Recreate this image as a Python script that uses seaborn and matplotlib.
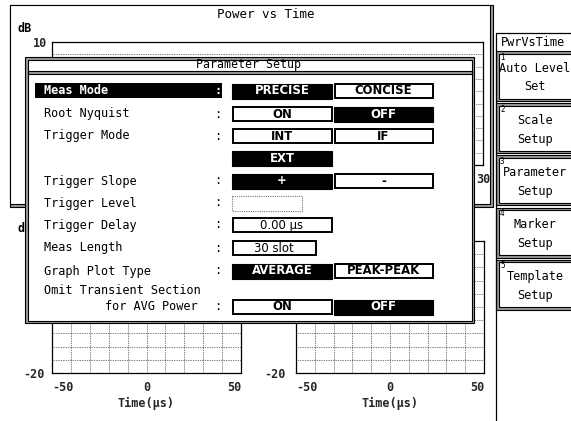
import numpy as np
import matplotlib
matplotlib.use("Agg")
import matplotlib.pyplot as plt
from matplotlib.patches import Rectangle
import seaborn as sns

# ---- values shown on the screen ----
screen_title = "Power vs Time"
dialog_title = "Parameter Setup"
param_labels = ["Meas Mode", "Root Nyquist", "Trigger Mode", "", "Trigger Slope",
                "Trigger Level", "Trigger Delay", "Meas Length", "Graph Plot Type",
                "for AVG Power"]
omit_label = "Omit Transient Section"
left_opts = ["PRECISE", "ON", "INT", "EXT", "+", "", "0.00 µs", "30 slot", "AVERAGE", "ON"]
right_opts = ["CONCISE", "OFF", "IF", None, "-", None, None, None, "PEAK-PEAK", "OFF"]
selected = [0, 1, None, 0, 0, None, None, None, 0, 1]
menu_title = "PwrVsTime"
menu_keys = ["Auto Level\nSet", "Scale\nSetup", "Parameter\nSetup", "Marker\nSetup", "Template\nSetup"]
top_xlim = [0, 30]
top_ylim = [-90, 10]
low_xlim = [-50, 50]
low_ylim = [-20, 10]
time_ticks = [-50, 0, 50]
unit = "dB"
time_label = "Time(µs)"

W, H = 571, 421
sns.set_theme(style="white")
plt.rcParams["font.family"] = ["DejaVu Sans Mono", "DejaVu Sans"]
plt.rcParams["text.color"] = "black"

fig = plt.figure(figsize=(W / 100, H / 100), dpi=100)
fig.patch.set_facecolor("white")


def px(x0, y0, x1, y1):
    return [x0 / W, 1 - y1 / H, (x1 - x0) / W, (y1 - y0) / H]


def canvas(z):
    ax = fig.add_axes([0, 0, 1, 1], zorder=z)
    ax.set_xlim(0, W)
    ax.set_ylim(H, 0)
    ax.axis("off")
    ax.patch.set_alpha(0)
    return ax


def double_box(ax, x0, y0, x1, y1, gap=2.5):
    ax.add_patch(Rectangle((x0, y0), x1 - x0, y1 - y0, fc="#9a9a9a", ec="black", lw=0.8))
    ax.add_patch(Rectangle((x0 + gap, y0 + gap), x1 - x0 - 2 * gap, y1 - y0 - 2 * gap,
                           fc="white", ec="black", lw=0.8))


bg = canvas(0)
# outer frame of the trace window
bg.add_patch(Rectangle((10, 5), 483, 202, fc="#9a9a9a", ec="black", lw=0.8))
bg.add_patch(Rectangle((10, 5), 480, 199, fc="white", ec="black", lw=0.8))
bg.text(266, 15, screen_title, ha="center", va="center", fontsize=9)
bg.text(18, 29, unit, ha="left", va="center", fontsize=8.5, weight="bold")
bg.text(18, 228, unit, ha="left", va="center", fontsize=8.5, weight="bold")

# soft key menu
bg.plot([495.5, 495.5], [33, H], color="black", lw=0.9)
bg.plot([495.5, W], [33, 33], color="black", lw=0.9)
bg.text(533, 42, menu_title, ha="center", va="center", fontsize=8.6)
for i, key in enumerate(menu_keys):
    top = 51 + 52.2 * i
    double_box(bg, 496, top, W + 5, top + 50)
    bg.text(500, top + 6, str(i + 1), ha="left", va="center", fontsize=5.5)
    first, second = key.split("\n")
    bg.text(535, top + 17, first, ha="center", va="center", fontsize=8.6)
    bg.text(535, top + 36, second, ha="center", va="center", fontsize=8.6)


def scope(box, xlim, ylim, xt, yt, ypad, xlabel=None, align_edges=True, xgrid=True):
    ax = fig.add_axes(px(*box), zorder=1)
    ax.set_facecolor("white")
    ax.set_xlim(xlim)
    ax.set_ylim(ylim)
    ax.set_xticks(np.linspace(xlim[0], xlim[1], 11), minor=True)
    ax.set_yticks(np.linspace(ylim[0], ylim[1], 11), minor=True)
    ax.set_xticks(xt, [str(v) for v in xt])
    ax.set_yticks(yt, [str(v) for v in yt])
    ax.grid(True, which="both", axis="both" if xgrid else "y",
            ls=(0, (1, 1.5)), color="black", lw=0.5)
    ax.tick_params(which="both", length=0, labelsize=8.5)
    ax.tick_params(axis="x", pad=5.5)
    ax.tick_params(axis="y", pad=ypad)
    for lab in ax.get_xticklabels() + ax.get_yticklabels():
        lab.set_fontweight("bold")
    if align_edges:
        labs = ax.get_xticklabels()
        labs[0].set_ha("left")
        labs[-1].set_ha("right")
    for s in ax.spines.values():
        s.set_visible(True)
        s.set_color("black")
        s.set_linewidth(0.9)
    if xlabel:
        ax.set_xlabel(xlabel, fontsize=8.5, weight="bold", labelpad=2)
    return ax


# upper trace: only the top level and the right time label stay uncovered
scope((52, 42, 483, 165), top_xlim, top_ylim, [top_xlim[1]], [top_ylim[1]], 3.5,
      align_edges=False, xgrid=False)
scope((52, 241, 241, 373), low_xlim, low_ylim, time_ticks, [low_ylim[0]], 5, time_label)
scope((296, 241, 484, 373), low_xlim, low_ylim, time_ticks, [low_ylim[0]], 7.5, time_label)

# ---- Parameter Setup dialog ----
fg = canvas(3)
double_box(fg, 25, 57, 474, 323)
fg.add_patch(Rectangle((27.5, 71), 444, 3, fc="#9a9a9a", ec="black", lw=0.8))
fg.text(249, 64.5, dialog_title, ha="center", va="center", fontsize=8.4)

rows_y = [91, 114, 136, 158, 181, 203, 225, 248, 271, 307]
col1 = (232, 332)
col2 = (334, 433)
entry_right = {5: 302, 6: 332, 7: 316}

fg.add_patch(Rectangle((35, 83), 187, 15, fc="black", ec="none"))
fg.text(44, 291, omit_label, ha="left", va="center", fontsize=8.6)

for i, y in enumerate(rows_y):
    lab = param_labels[i]
    hl = (i == 0)
    txt_col = "white" if hl else "black"
    if lab:
        if i == len(rows_y) - 1:
            fg.text(198, y, lab, ha="right", va="center", fontsize=8.6)
        else:
            fg.text(44, y, lab, ha="left", va="center", fontsize=8.6, color=txt_col,
                    weight="bold" if hl else "normal")
        fg.text(218, y, ":", ha="center", va="center", fontsize=8.6, color=txt_col,
                weight="bold" if hl else "normal")
    opts = [left_opts[i], right_opts[i]]
    for j, opt in enumerate(opts):
        if opt is None:
            continue
        x0, x1 = col1 if j == 0 else col2
        if i in entry_right:
            x1 = entry_right[i]
        if selected[i] == j:
            fg.add_patch(Rectangle((x0, y - 7.5), x1 - x0, 15, fc="black", ec="black", lw=0.8))
            fg.text((x0 + x1) / 2, y, opt, ha="center", va="center", fontsize=8.4,
                    family="DejaVu Sans", weight="bold", color="white")
        elif i == 5:
            fg.add_patch(Rectangle((x0, y - 7.5), x1 - x0, 15, fc="white", ec="#777777",
                                   lw=0.8, ls=(0, (1, 1))))
        else:
            fg.add_patch(Rectangle((x0 + 0.5, y - 7), x1 - x0 - 1, 14, fc="white", ec="black", lw=1.4))
            fg.text((x0 + x1) / 2, y, opt, ha="center", va="center", fontsize=8.4,
                    family="DejaVu Sans", weight="bold" if i not in entry_right else "normal")

fig.savefig("out.png", dpi=100, facecolor="white")
